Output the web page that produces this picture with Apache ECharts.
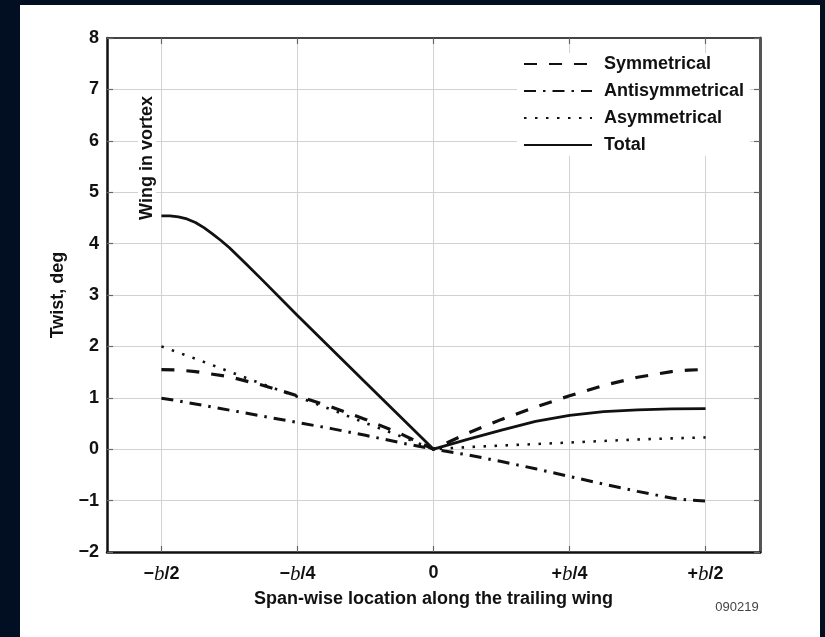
<!DOCTYPE html>
<html>
<head>
<meta charset="utf-8">
<script src="https://cdn.jsdelivr.net/npm/echarts@6/dist/echarts.min.js"></script>
<style>
html,body{margin:0;padding:0;background:#020f22;width:825px;height:637px;overflow:hidden}
#chart{position:absolute;left:20px;top:5px;width:800px;height:632px;background:#fff}
</style>
</head>
<body>
<div id="chart"></div>
<script>
// span-wise location in units of b/4
var xs = [-2, -1.875, -1.75, -1.5, -1.25, -1, -0.75, -0.5, -0.25, 0, 0.25, 0.5, 0.75, 1, 1.25, 1.5, 1.75, 1.875, 2];
var symmetrical = [1.55, 1.54, 1.51, 1.41, 1.24, 1.04, 0.82, 0.58, 0.31, 0, 0.31, 0.58, 0.82, 1.04, 1.24, 1.40, 1.51, 1.54, 1.55];
var antisymmetrical = [0.99, 0.94, 0.88, 0.76, 0.64, 0.52, 0.40, 0.27, 0.13, 0, -0.11, -0.24, -0.38, -0.53, -0.68, -0.82, -0.95, -0.99, -1.01];
var asymmetrical = [2.00, 1.88, 1.76, 1.51, 1.26, 1.02, 0.77, 0.51, 0.26, 0, 0.04, 0.07, 0.10, 0.13, 0.16, 0.19, 0.21, 0.22, 0.23];
var totalXs = [-2, -1.9375, -1.875, -1.8125, -1.75, -1.6875, -1.625, -1.5625, -1.5, -1.375, -1.25, -1, -0.5, 0, 0.25, 0.5, 0.75, 1, 1.25, 1.5, 1.75, 2];
var total = [4.54, 4.54, 4.52, 4.48, 4.41, 4.31, 4.19, 4.06, 3.92, 3.60, 3.27, 2.60, 1.30, 0, 0.19, 0.37, 0.54, 0.66, 0.73, 0.765, 0.785, 0.79];

var seriesNames = ['Symmetrical', 'Antisymmetrical', 'Asymmetrical', 'Total'];
var xTickValues = [-2, -1, 0, 1, 2];
var xTickLabels = ['{n|\u2212}{i|b}{n|/2}', '{n|\u2212}{i|b}{n|/4}', '{n|0}', '{n|+}{i|b}{n|/4}', '{n|+}{i|b}{n|/2}'];

function pairs(xv, ys) { return xv.map(function (x, i) { return [x, ys[i]]; }); }

var FONT = '"Liberation Sans", Arial, sans-serif';
var chart = echarts.init(document.getElementById('chart'), null, {renderer: 'canvas'});

var styles = [
  {type: [13, 12], width: 3.2},
  {type: [12, 7, 2.5, 7], width: 3},
  {type: [2.5, 8.5], width: 2.6},
  {type: 'solid', width: 2.8}
];
var dataSets = [pairs(xs, symmetrical), pairs(xs, antisymmetrical), pairs(xs, asymmetrical), pairs(totalXs, total)];

var option = {
  animation: false,
  backgroundColor: '#ffffff',
  grid: {left: 87, right: 60, top: 33, bottom: 85, containLabel: false},
  legend: {
    data: seriesNames,
    orient: 'vertical',
    left: 497, top: 48,
    itemWidth: 68, itemHeight: 14, itemGap: 9,
    padding: [2, 6, 2, 6],
    backgroundColor: '#ffffff',
    itemStyle: {color: 'rgba(0,0,0,0)', borderColor: 'rgba(0,0,0,0)', borderWidth: 0, opacity: 0},
    textStyle: {fontFamily: FONT, fontWeight: 'bold', fontSize: 18, color: '#111', padding: [0, 0, 0, 7]}
  },
  xAxis: [{
    type: 'value', min: -2.4, max: 2.4, position: 'bottom',
    name: 'Span-wise location along the trailing wing',
    nameLocation: 'middle', nameGap: 31,
    nameTextStyle: {fontFamily: FONT, fontWeight: 'bold', fontSize: 18, color: '#111'},
    axisLine: {show: true, onZero: false, lineStyle: {color: '#111', width: 2.5}},
    axisTick: {show: true, inside: true, length: 6, customValues: xTickValues, lineStyle: {color: '#666', width: 1.2}},
    axisLabel: {
      customValues: xTickValues, margin: 12,
      formatter: function (v) { var k = xTickValues.indexOf(v); return k >= 0 ? xTickLabels[k] : ''; },
      rich: {
        n: {fontFamily: FONT, fontWeight: 'bold', fontSize: 18, color: '#111'},
        i: {fontFamily: '"Liberation Serif", "Times New Roman", serif', fontStyle: 'italic', fontSize: 21, color: '#111'}
      }
    },
    splitLine: {show: true, lineStyle: {color: '#d2d2d2', width: 1}}
  }, {
    type: 'value', min: -2.4, max: 2.4, position: 'top',
    axisLine: {show: true, onZero: false, lineStyle: {color: '#444', width: 2}},
    axisTick: {show: true, inside: true, length: 6, customValues: xTickValues, lineStyle: {color: '#666', width: 1.2}},
    axisLabel: {show: false},
    splitLine: {show: false}
  }],
  yAxis: [{
    type: 'value', min: -2, max: 8, interval: 1, position: 'left',
    name: 'Twist, deg', nameLocation: 'middle', nameGap: 40, nameRotate: 90,
    nameTextStyle: {fontFamily: FONT, fontWeight: 'bold', fontSize: 18, color: '#111'},
    axisLine: {show: true, onZero: false, lineStyle: {color: '#111', width: 2.5}},
    axisTick: {show: true, inside: true, length: 6, lineStyle: {color: '#666', width: 1.2}},
    axisLabel: {
      margin: 8, fontFamily: FONT, fontWeight: 'bold', fontSize: 18, color: '#111',
      formatter: function (v) { return v < 0 ? '\u2212' + Math.abs(v) : String(v); }
    },
    splitLine: {show: true, lineStyle: {color: '#d2d2d2', width: 1}}
  }, {
    type: 'value', min: -2, max: 8, interval: 1, position: 'right',
    axisLine: {show: true, onZero: false, lineStyle: {color: '#555', width: 3}},
    axisTick: {show: true, inside: true, length: 6, lineStyle: {color: '#666', width: 1.2}},
    axisLabel: {show: false},
    splitLine: {show: false}
  }],
  graphic: [{
    type: 'text', x: 127, y: 153, rotation: Math.PI / 2, z: 50,
    style: {text: 'Wing in vortex', x: 0, y: 0, align: 'center', verticalAlign: 'middle',
      font: 'bold 18px ' + FONT, fill: '#111', backgroundColor: '#fff', padding: [0, 4]}
  }, {
    type: 'text', x: 717, y: 602, z: 50,
    style: {text: '090219', align: 'center', verticalAlign: 'middle', font: '13px ' + FONT, fill: '#444'}
  }],
  series: seriesNames.map(function (n, k) {
    return {
      name: n, type: 'line', xAxisIndex: 0, yAxisIndex: 0,
      data: dataSets[k], symbol: 'none', smooth: false, z: 3 + k,
      lineStyle: {color: '#111', width: styles[k].width, type: styles[k].type, cap: 'butt'},
      itemStyle: {color: '#111'}
    };
  })
};
chart.setOption(option);
</script>
</body>
</html>
